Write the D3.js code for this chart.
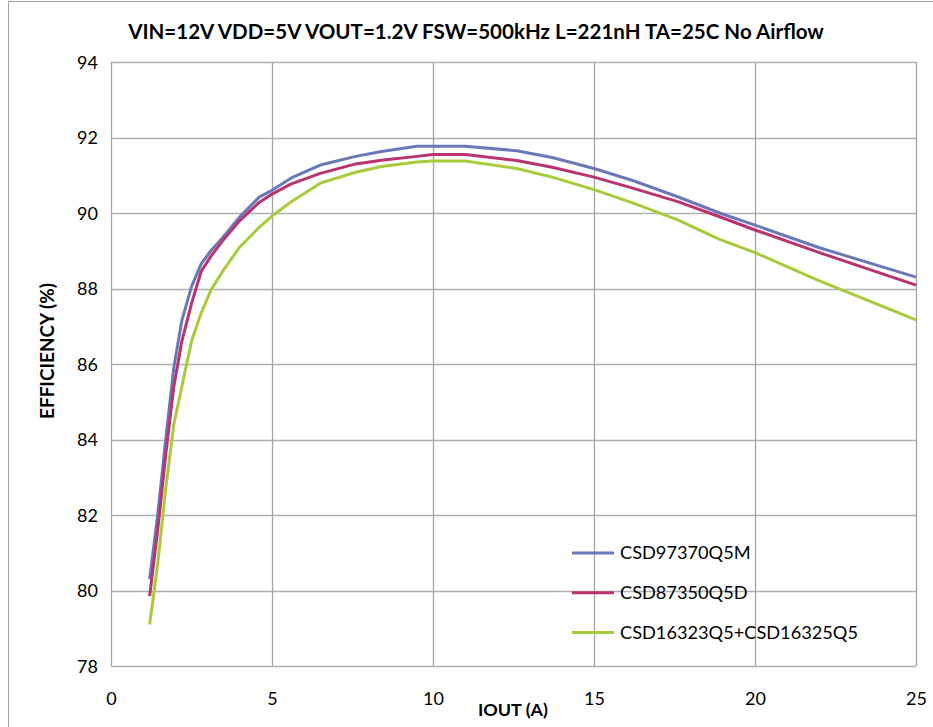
<!DOCTYPE html>
<html>
<head>
<meta charset="utf-8">
<script src="https://cdn.jsdelivr.net/npm/d3@7"></script>
<style>
  html, body { margin: 0; padding: 0; background: #fff; }
  svg { display: block; }
  text { font-family: Lato, "Open Sans", "Liberation Sans", sans-serif; fill: #000; }
</style>
</head>
<body>
<svg id="chart" width="933" height="727"></svg>
<script>
// ---- data ----
const iout = [1.2, 1.45, 1.7, 1.95, 2.2, 2.5, 2.8, 3.1, 3.5, 4.0, 4.6, 5.0, 5.6, 6.5, 7.6, 8.4, 9.5, 10.0, 11.0, 12.6, 13.7, 15.0, 16.2, 17.6, 18.9, 20.0, 22.0, 25.0];
const effCSD97370Q5M = [80.3, 82.0, 84.0, 85.9, 87.15, 88.05, 88.65, 89.0, 89.38, 89.9, 90.42, 90.6, 90.93, 91.27, 91.5, 91.63, 91.77, 91.77, 91.77, 91.65, 91.47, 91.18, 90.86, 90.43, 90.0, 89.68, 89.08, 88.3];
const effCSD87350Q5D = [79.85, 81.6, 83.6, 85.4, 86.6, 87.6, 88.45, 88.85, 89.3, 89.8, 90.28, 90.5, 90.77, 91.05, 91.3, 91.4, 91.5, 91.55, 91.55, 91.39, 91.21, 90.95, 90.66, 90.3, 89.9, 89.55, 88.95, 88.09];
const effCSD16323 = [79.1, 80.7, 82.7, 84.4, 85.4, 86.6, 87.35, 87.95, 88.5, 89.1, 89.62, 89.92, 90.3, 90.79, 91.08, 91.23, 91.35, 91.38, 91.38, 91.18, 90.95, 90.62, 90.27, 89.82, 89.3, 88.95, 88.2, 87.17];
const seriesNames = ["CSD97370Q5M", "CSD87350Q5D", "CSD16323Q5+CSD16325Q5"];
const seriesColors = ["#6b78b8", "#b8336f", "#a7cb3a"];
const xTicks = [0, 5, 10, 15, 20, 25];
const yTicks = [78, 80, 82, 84, 86, 88, 90, 92, 94];
const titleText = "VIN=12V VDD=5V VOUT=1.2V FSW=500kHz L=221nH TA=25C No Airflow";
const xTitle = "IOUT (A)";
const yTitle = "EFFICIENCY (%)";

const series = [effCSD97370Q5M, effCSD87350Q5D, effCSD16323].map((v, i) => ({
  name: seriesNames[i], color: seriesColors[i],
  pts: iout.map((x, j) => [x, v[j]])
}));

// ---- layout ----
const svg = d3.select("#chart");
const L = 111, R = 916, T = 62, B = 666;
const x = d3.scaleLinear().domain([0, 25]).range([L, R]);
const y = d3.scaleLinear().domain([78, 94]).range([B, T]);

function fit(sel, targetW) {
  const n = sel.node();
  const w = n.getComputedTextLength();
  const fs = parseFloat(sel.attr("font-size"));
  sel.attr("font-size", (fs * targetW / w).toFixed(2));
}

// outer chart border
svg.append("path").attr("d", `M8.5,727 V1.5 H933`).attr("fill", "none").attr("stroke", "#a0a0a0").attr("stroke-width", 1);

// gridlines
const grid = svg.append("g");
grid.selectAll(".hg").data(yTicks).join("line")
  .attr("x1", L).attr("x2", R).attr("y1", d => Math.round(y(d)) + 0.5).attr("y2", d => Math.round(y(d)) + 0.5)
  .attr("stroke", "#b0b0b0").attr("stroke-width", 1.3);
grid.selectAll(".vg").data(xTicks).join("line")
  .attr("y1", T).attr("y2", B).attr("x1", d => Math.round(x(d)) + 0.5).attr("x2", d => Math.round(x(d)) + 0.5)
  .attr("stroke", "#a3a3a3").attr("stroke-width", 1.3);

// axes (labels only, via d3 axes)
const yAxis = svg.append("g").attr("transform", `translate(${L},0)`)
  .call(d3.axisLeft(y).tickValues(yTicks).tickSize(0).tickPadding(13));
yAxis.select(".domain").remove();
yAxis.selectAll("text").attr("font-size", 18).attr("font-family", "Lato, 'Open Sans', sans-serif").attr("fill", "#000").attr("dy", "0.35em");

const xAxis = svg.append("g").attr("transform", `translate(0,${B})`)
  .call(d3.axisBottom(x).tickValues(xTicks).tickSize(0).tickPadding(26));
xAxis.select(".domain").remove();
xAxis.selectAll("text").attr("font-size", 18).attr("font-family", "Lato, 'Open Sans', sans-serif").attr("fill", "#000");

// lines
const line = d3.line().x(d => x(d[0])).y(d => y(d[1]));
svg.append("g").selectAll("path").data(series).join("path")
  .attr("d", d => line(d.pts)).attr("fill", "none")
  .attr("stroke", d => d.color).attr("stroke-width", 3).attr("stroke-linejoin", "round");

// title
const t = svg.append("text").attr("x", 476).attr("y", 39).attr("text-anchor", "middle")
  .attr("font-weight", "bold").attr("font-size", 19).text(titleText);
fit(t, 696);

// axis titles
const xt = svg.append("text").attr("x", 513).attr("y", 716).attr("text-anchor", "middle")
  .attr("font-weight", "bold").attr("font-size", 16).text(xTitle);
fit(xt, 70);
const yt = svg.append("text").attr("transform", `translate(54,351) rotate(-90)`).attr("text-anchor", "middle")
  .attr("font-weight", "bold").attr("font-size", 15).text(yTitle);
fit(yt, 136);

// legend
const lg = svg.append("g").selectAll("g").data(series).join("g")
  .attr("transform", (d, i) => `translate(572,${553 + i * 39.7})`);
lg.append("line").attr("x1", 0).attr("x2", 42).attr("stroke", d => d.color).attr("stroke-width", 3);
lg.append("text").attr("x", 48).attr("dy", "0.35em").attr("font-size", 16).text(d => d.name)
  .each(function(d, i) { if (i === 2) { const s = d3.select(this); fit(s, 238); } });
const fsLeg = lg.filter((d, i) => i === 2).select("text").attr("font-size");
lg.selectAll("text").attr("font-size", fsLeg);
</script>
</body>
</html>
